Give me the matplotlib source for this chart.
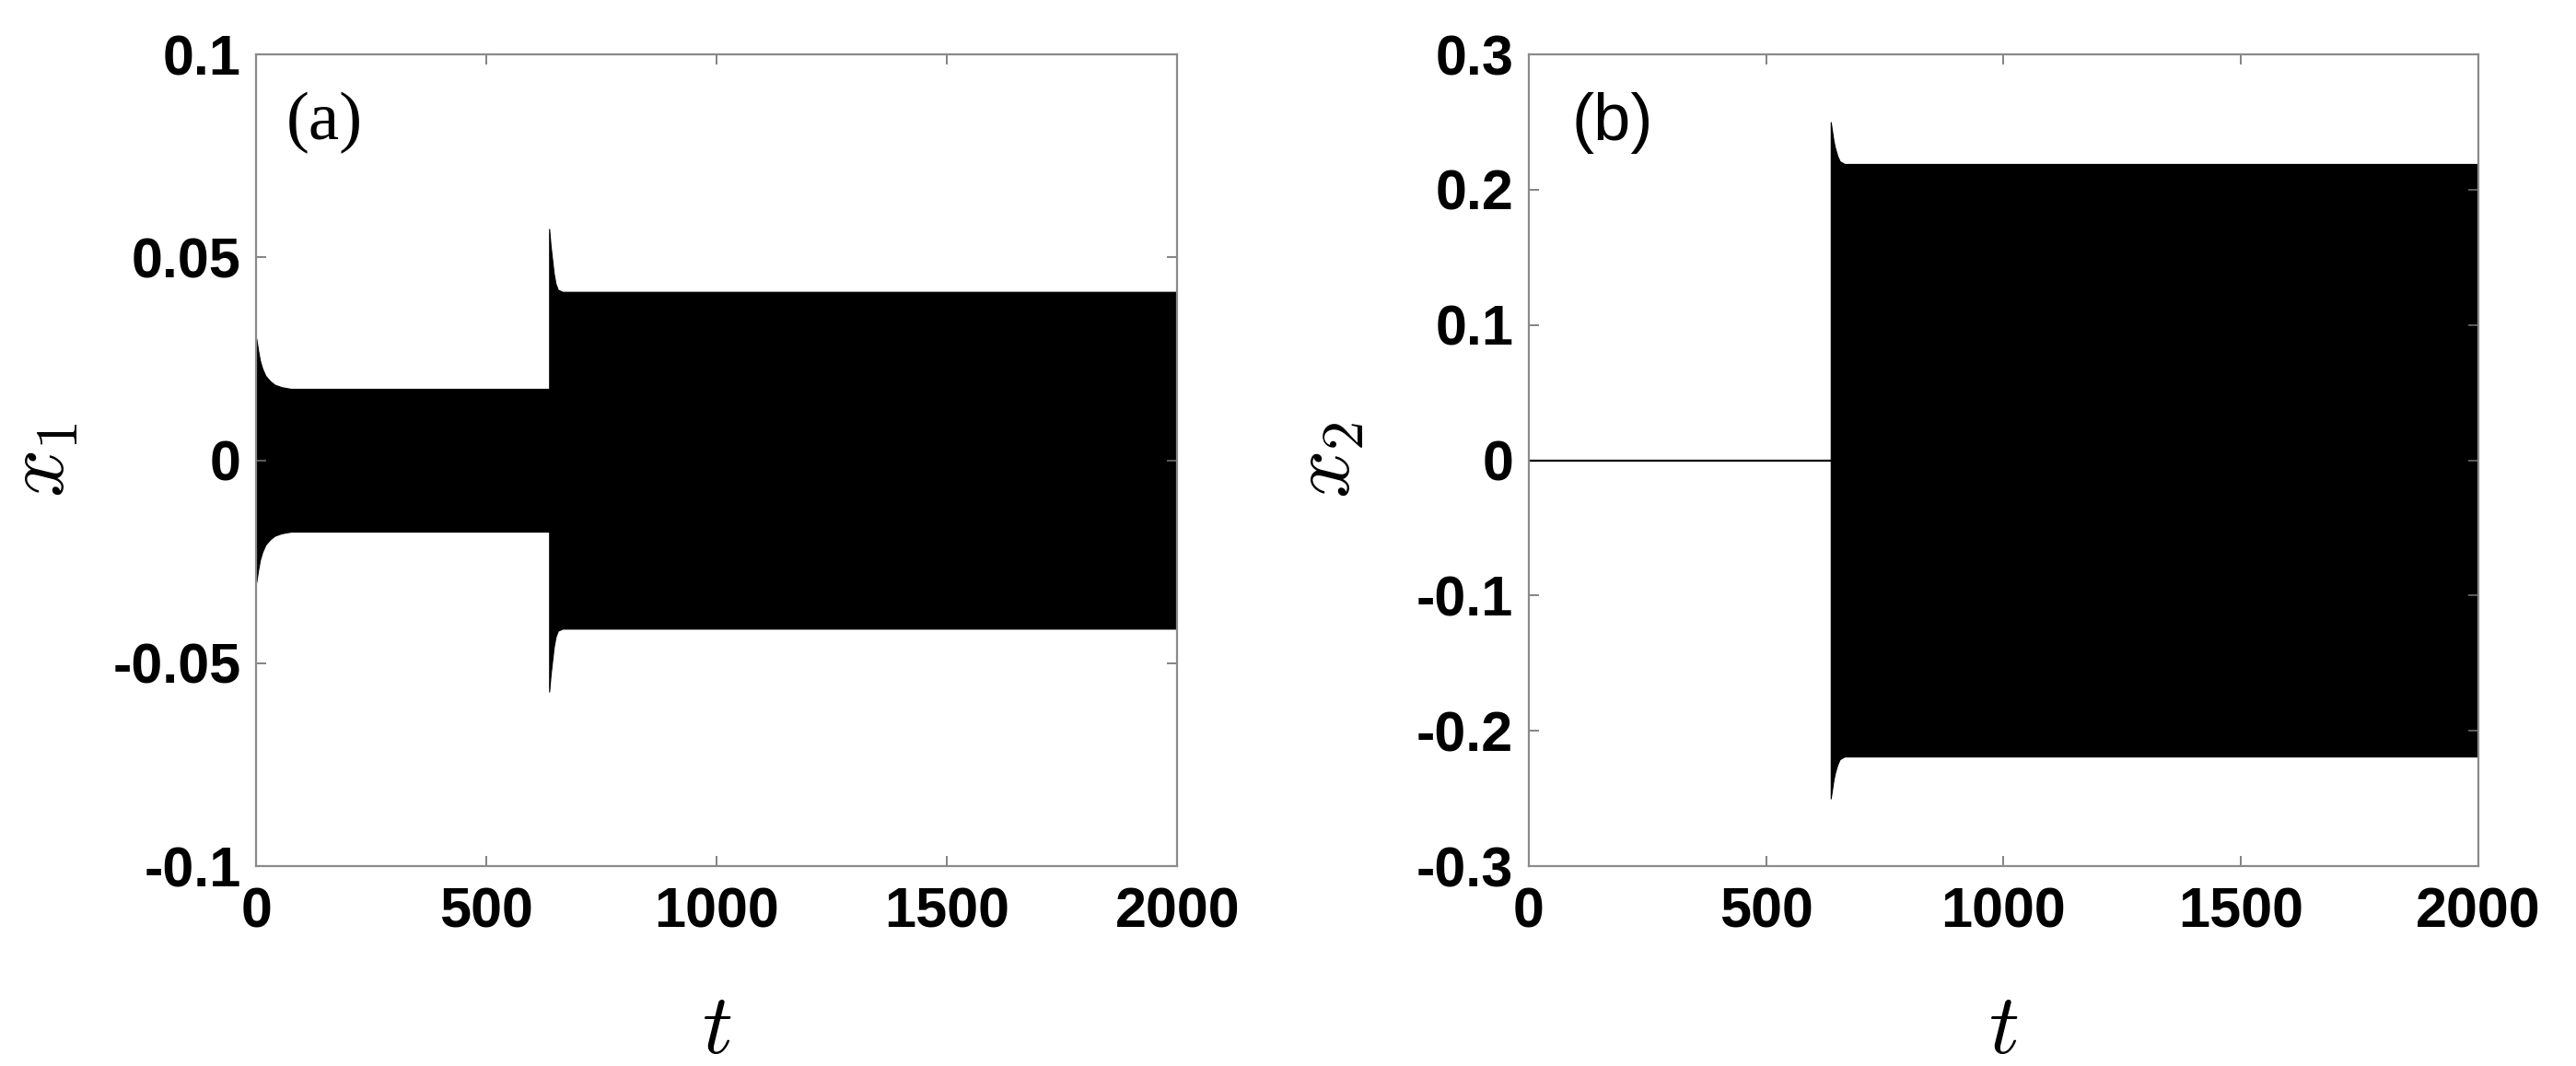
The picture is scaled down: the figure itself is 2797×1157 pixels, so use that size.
import matplotlib
matplotlib.use("Agg")
import matplotlib.pyplot as plt
import numpy as np

# envelope of the fast oscillation (upper edge; band is symmetric)
t1_env = [0, 4, 8, 13, 20, 30, 40, 55, 75, 636, 636, 639, 642, 646, 650, 655, 665, 2000]
x1_env = [0.030, 0.027, 0.0245, 0.0226, 0.0208, 0.0195, 0.0186, 0.018, 0.0176, 0.0176,
          0.057, 0.053, 0.050, 0.046, 0.0435, 0.042, 0.0415, 0.0415]

t2_flat = [0, 636]
x2_flat = [0, 0]
t2_env = [636, 636, 639, 642, 645, 650, 655, 665, 2000]
x2_env = [0.0, 0.25, 0.243, 0.236, 0.231, 0.225, 0.221, 0.219, 0.219]

xticks = [0, 500, 1000, 1500, 2000]
y1ticks = [-0.1, -0.05, 0, 0.05, 0.1]
y1labels = ['-0.1', '-0.05', '0', '0.05', '0.1']
y2ticks = [-0.3, -0.2, -0.1, 0, 0.1, 0.2, 0.3]
y2labels = ['-0.3', '-0.2', '-0.1', '0', '0.1', '0.2', '0.3']

plt.rcParams['mathtext.fontset'] = 'cm'
tickfont = dict(family='Liberation Sans', weight='bold', size=44)

fig = plt.figure(figsize=(27.97, 11.57), dpi=100)
ax1 = fig.add_axes([0.0995, 0.1875, 0.3575, 0.7615])
ax2 = fig.add_axes([0.5935, 0.1875, 0.3685, 0.7615])


def style(ax, yticks, ylabels, ylim):
    ax.set_xlim(0, 2000)
    ax.set_ylim(*ylim)
    ax.set_xticks(xticks)
    ax.set_xticklabels([str(v) for v in xticks], fontdict=tickfont)
    ax.set_yticks(yticks)
    ax.set_yticklabels(ylabels, fontdict=tickfont)
    ax.tick_params(direction='in', length=8, width=1.2, colors='#6e6e6e',
                   top=True, right=True, labelcolor='black')
    ax.tick_params(axis='x', pad=16)
    ax.tick_params(axis='y', pad=12)
    for s in ax.spines.values():
        s.set_color('#8a8a8a')
        s.set_linewidth(1.6)


# panel (a)
t1 = np.array(t1_env)
x1 = np.array(x1_env)
ax1.fill_between(t1, -x1, x1, color='black', linewidth=0.8, edgecolor='black')
style(ax1, y1ticks, y1labels, (-0.1, 0.1))
ax1.set_xlabel(r'$t$', fontsize=66)
ax1.set_ylabel(r'$x_1$', fontsize=66)
ax1.xaxis.set_label_coords(0.5, -0.15)
ax1.yaxis.set_label_coords(-0.19, 0.5)
ax1.text(0.032, 0.915, '(a)', transform=ax1.transAxes, family='Liberation Serif',
         fontsize=54, va='center', ha='left')

# panel (b)
ax2.plot(t2_flat, x2_flat, color='black', linewidth=1.6)
t2 = np.array(t2_env)
x2 = np.array(x2_env)
ax2.fill_between(t2, -x2, x2, color='black', linewidth=0.8, edgecolor='black')
style(ax2, y2ticks, y2labels, (-0.3, 0.3))
ax2.set_xlabel(r'$t$', fontsize=66)
ax2.set_ylabel(r'$x_2$', fontsize=66)
ax2.xaxis.set_label_coords(0.5, -0.15)
ax2.yaxis.set_label_coords(-0.17, 0.5)
ax2.text(0.045, 0.915, '(b)', transform=ax2.transAxes, family='Liberation Sans',
         fontsize=52, va='center', ha='left')

fig.savefig('out.png', dpi=100)
